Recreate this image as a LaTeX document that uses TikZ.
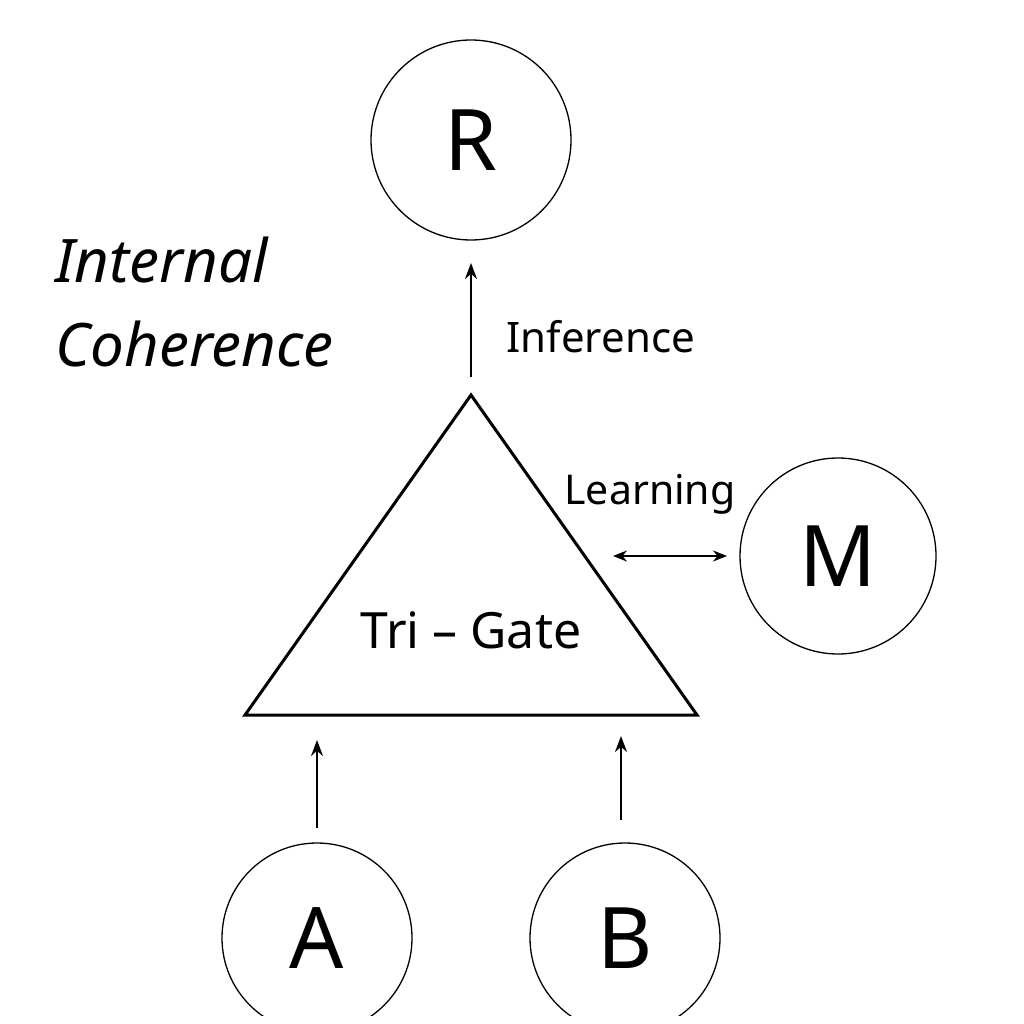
\documentclass[tikz,border=0pt]{standalone}
\usepackage{fontspec}
\setmainfont{Noto Sans}
\usetikzlibrary{arrows.meta}
\tikzset{
 circ/.style={draw,circle,line width=1.3pt,inner sep=0pt},
 uparrow/.style={draw,line width=2.4pt,-{Stealth[length=16pt,width=12pt]}},
 bothway/.style={draw,line width=2pt,{Stealth[length=14pt,width=11pt]}-{Stealth[length=14pt,width=11pt]}},
 ictext/.style={anchor=base west,font=\fontsize{60}{70}\selectfont\itshape}}
\begin{document}
\begin{tikzpicture}[x=1pt,y=-1pt]
\useasboundingbox (0,0) rectangle (1024,1024);
\clip (0,0) rectangle (1024,1015);
\node[circ,minimum size=200pt] (R) at (471,140) {\fontsize{85}{90}\selectfont R};
\node[circ,minimum size=196pt] (M) at (838,556) {\fontsize{85}{90}\selectfont M};
\node[circ,minimum size=190pt] (A) at (317,938) {\fontsize{85}{90}\selectfont A};
\node[circ,minimum size=190pt] (B) at (625,938) {\fontsize{85}{90}\selectfont B};
\coordinate (T1) at (471,395); \coordinate (T2) at (245,715); \coordinate (T3) at (697,715);
\draw[line width=3pt,line join=miter] (T1)--(T2)--(T3)--cycle;
\node (TG) at (471,630) {\fontsize{50}{55}\selectfont Tri – Gate};
\coordinate (i0) at (471,377); \coordinate (i1) at (471,263);
\path[uparrow] (i0)--(i1);
\node[anchor=west] (inf) at (503,337) {\fontsize{42}{45}\selectfont Inference};
\node (lrn) at (650,494) {\fontsize{41}{45}\selectfont Learning};
\coordinate (l0) at (613,556); \coordinate (l1) at (727,556);
\path[bothway] (l0)--(l1);
\coordinate (a0) at (317,828); \coordinate (a1) at (317,740);
\path[uparrow] (a0)--(a1);
\coordinate (b0) at (621,820); \coordinate (b1) at (621,736);
\path[uparrow] (b0)--(b1);
\node[ictext] (ic1) at (52,282) {Internal};
\node[ictext] (ic2) at (52,366) {Coherence};
\end{tikzpicture}
\end{document}
